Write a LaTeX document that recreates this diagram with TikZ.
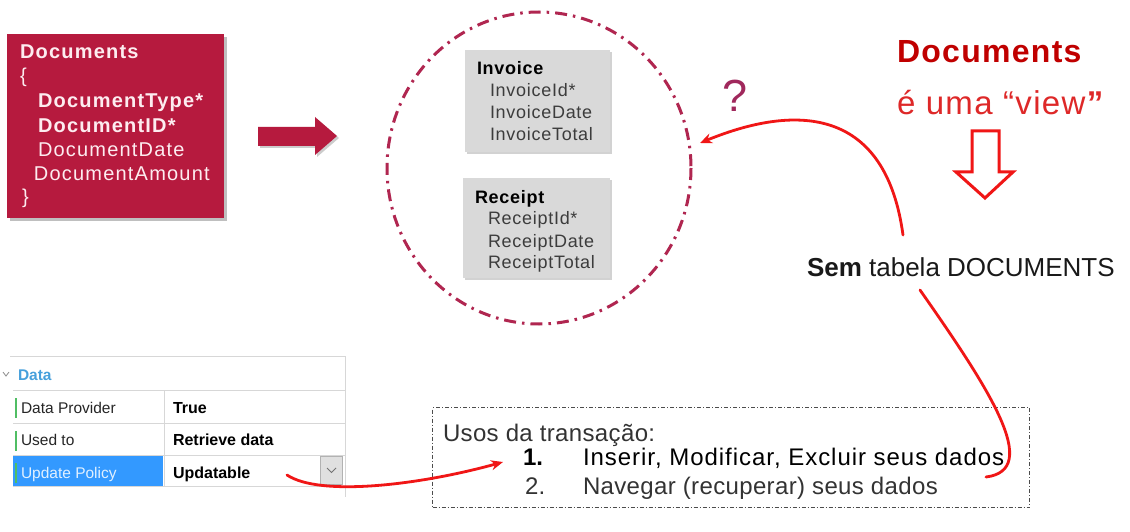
\documentclass[tikz,border=0pt]{standalone}
\usepackage{fontspec}
\setmainfont{Liberation Sans}
\newfontfamily\spaced[LetterSpace=6]{Liberation Sans}
\newfontfamily\lightspaced[LetterSpace=4]{Liberation Sans}
\newfontfamily\slide[LetterSpace=4]{Liberation Sans}
\newfontfamily\tightspaced[LetterSpace=1.5]{Liberation Sans}
\usetikzlibrary{shadows,arrows.meta}

\definecolor{crimson}{RGB}{182,26,62}
\definecolor{ringred}{RGB}{176,38,80}
\definecolor{qmark}{RGB}{160,40,92}
\definecolor{darkred}{RGB}{192,0,0}
\definecolor{viewred}{RGB}{222,40,40}
\definecolor{pen}{RGB}{240,22,22}
\definecolor{boxgray}{RGB}{217,217,217}
\definecolor{fieldtxt}{RGB}{60,60,60}
\definecolor{gridline}{RGB}{215,215,215}
\definecolor{selblue}{RGB}{51,153,255}
\definecolor{headblue}{RGB}{70,160,220}
\definecolor{rowgreen}{RGB}{80,190,100}
\definecolor{boxtxt}{RGB}{253,236,240}

\tikzset{
  txt/.style={anchor=base west, inner sep=0pt, outer sep=0pt},
  redfield/.style={txt, text=boxtxt, font=\spaced\fontsize{20}{24}\selectfont},
  entitybox/.style={fill=boxgray, draw=none, drop shadow={shadow xshift=2pt, shadow yshift=-2pt, opacity=.35}},
  entfield/.style={txt, text=fieldtxt, font=\lightspaced\fontsize{18}{22}\selectfont},
  enttitle/.style={txt, text=black, font=\lightspaced\bfseries\fontsize{18}{22}\selectfont},
  proptxt/.style={txt, font=\fontsize{15.5}{18}\selectfont},
  propval/.style={txt, font=\bfseries\fontsize{16}{18}\selectfont},
  usage/.style={txt, text=black!80, font=\tightspaced\fontsize{24}{28}\selectfont},
  penline/.style={draw=pen, line width=2.8pt, line cap=round},
  pentip/.style={-{Stealth[length=12pt,width=10pt]}},
}

\begin{document}
\begin{tikzpicture}[x=1pt,y=-1pt]
\useasboundingbox (0,0) rectangle (1130,532);
\fill[white] (0,0) rectangle (1130,532);

% ---- Documents transaction (crimson card)
\fill[black, opacity=.25] (10,37) rectangle (227,221);
\node[fill=crimson, minimum width=217pt, minimum height=184pt, inner sep=0pt, anchor=north west] (card) at (7,34) {};
\node[redfield, font=\bfseries\spaced\fontsize{20}{24}\selectfont] (cname) at (20,59) {Documents};
\node[redfield] (copen) at (20,83) {\{};
\node[redfield, font=\bfseries\spaced\fontsize{20}{24}\selectfont] (f1) at (38,108) {DocumentType*};
\node[redfield, font=\bfseries\spaced\fontsize{20}{24}\selectfont] (f2) at (38,133) {DocumentID*};
\node[redfield] (f3) at (38,157) {DocumentDate};
\node[redfield] (f4) at (34,181) {DocumentAmount};
\node[redfield] (cclose) at (22,204) {\}};

% ---- block arrow
\fill[black, opacity=.2] (260,129) -- (317,129) -- (317,119) -- (339,138) -- (317,157) -- (317,148) -- (260,148) -- cycle;
\fill[crimson] (258,127) -- (315,127) -- (315,117) -- (337,136) -- (315,155) -- (315,146) -- (258,146) -- cycle;

% ---- dash-dotted ring holding the two physical tables
\draw[ringred, line width=3pt, dash pattern=on 12pt off 6pt on 2.5pt off 6pt] (539,168) ellipse [x radius=152, y radius=156];
\coordinate (ringE) at (700,143);

\node[entitybox, minimum width=145pt, minimum height=102pt, inner sep=0pt, anchor=north west] (inv) at (465,50) {};
\node[enttitle] (invt) at (477,75) {Invoice};
\node[entfield] (inv1) at (490,97) {InvoiceId*};
\node[entfield] (inv2) at (490,119) {InvoiceDate};
\node[entfield] (inv3) at (490,141) {InvoiceTotal};

\node[entitybox, minimum width=147pt, minimum height=100pt, inner sep=0pt, anchor=north west] (rec) at (463,178) {};
\node[enttitle] (rect) at (475,203) {Receipt};
\node[entfield] (rec1) at (488,224) {ReceiptId*};
\node[entfield] (rec2) at (488,247) {ReceiptDate};
\node[entfield] (rec3) at (488,268) {ReceiptTotal};

% ---- question mark and the view note
\node[txt, text=qmark, font=\fontsize{45}{50}\selectfont] (q) at (722,112) {?};
\node[txt, text=darkred, font=\bfseries\slide\fontsize{32}{36}\selectfont] (vt) at (897,63) {Documents};
\node[txt, text=viewred, font=\slide\fontsize{33}{36}\selectfont] (vs) at (897,115) {é uma “view\textbf{”}};

% hollow down arrow
\draw[pen, line width=3pt, line join=miter, fill=white]
  (972,131) -- (999,131) -- (999,172) -- (1013,172) -- (985,198) -- (956,172) -- (972,172) -- cycle;

\node[txt, text=black!90, font=\fontsize{26}{30}\selectfont] (sem) at (807,276) {\textbf{Sem} tabela DOCUMENTS};
\coordinate (semN) at (903,235);
\coordinate (semS) at (920,290);

% ---- property grid
\draw[gridline, line width=1pt] (10,356) -- (345,356);
\draw[gridline, line width=1pt] (345,356) -- (345,497);
\draw[gridline, line width=1pt] (13,390) -- (345,390);
\draw[gridline, line width=1pt] (13,423) -- (345,423);
\draw[gridline, line width=1pt] (13,455) -- (345,455);
\draw[gridline, line width=1pt] (13,486) -- (345,486);
\draw[gridline, line width=1pt] (164,390) -- (164,486);
\fill[selblue] (13,456) rectangle (163,486);
\fill[rowgreen] (15,398) rectangle (17,418);
\fill[rowgreen] (15,431) rectangle (17,451);
\fill[rowgreen] (15,463) rectangle (17,483);
\draw[black!45, line width=.8pt] (3,372) -- (6,376) -- (9,372);
\node[txt, text=headblue, font=\bfseries\fontsize{15.5}{18}\selectfont] (phead) at (18,380) {Data};
\node[proptxt, text=black!85] (p1) at (21,413) {Data Provider};
\node[propval] (v1) at (173,413) {True};
\node[proptxt, text=black!85] (p2) at (21,445) {Used to};
\node[propval] (v2) at (173,445) {Retrieve data};
\node[proptxt, text=white!85!selblue] (p3) at (21,478) {Update Policy};
\node[propval] (v3) at (173,478) {Updatable};
\node[fill=black!12, draw=black!30, line width=.6pt, minimum width=22pt, minimum height=28pt, inner sep=0pt] (dd) at (331.5,470) {};
\draw[black!55, line width=.8pt] (327,468) -- (331.5,472.5) -- (336,468);
\coordinate (updR) at (287,475);

% ---- usage box
\node[draw=black!70, line width=1pt, dash pattern=on 4pt off 2pt on 1pt off 2pt, minimum width=597pt, minimum height=100pt, inner sep=0pt, anchor=north west] (uses) at (432,407) {};
\node[usage] (u0) at (443,441) {Usos da transação:};
\node[usage, font=\bfseries\fontsize{24}{28}\selectfont, text=black] (n1) at (523,465) {1.};
\node[usage, font=\lightspaced\fontsize{24}{28}\selectfont, text=black] (u1) at (583,465) {Inserir, Modificar, Excluir seus dados};
\node[usage] (n2) at (525,494) {2.};
\node[usage] (u2) at (583,494) {Navegar (recuperar) seus dados};
\coordinate (u2E) at (986,477);
\coordinate (u1W) at (503,462);

% ---- red pen connectors
\draw[penline, pentip] (semN) .. controls (886,110) and (800,102) .. (ringE);
\draw[penline] (semS) .. controls (990,390) and (1042,470) .. (u2E);
\draw[penline, pentip] (updR) .. controls (320,497) and (420,485) .. (u1W);
\end{tikzpicture}
\end{document}
